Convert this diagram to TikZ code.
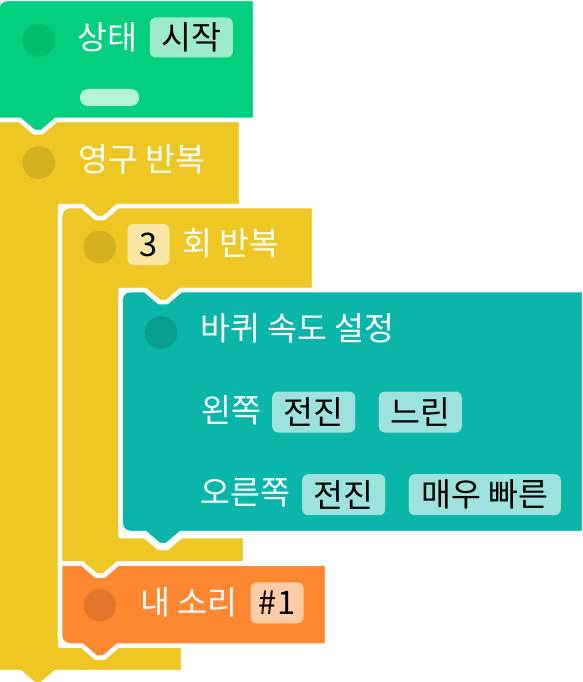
\documentclass[tikz,border=0pt]{standalone}
\usepackage{fontspec}
\setmainfont{Noto Sans CJK KR}
\definecolor{gFill}{HTML}{02D07F}
\definecolor{gDot}{HTML}{00BC6F}
\definecolor{gPill}{HTML}{9DEBCB}
\definecolor{gBar}{HTML}{B2F4D3}
\definecolor{yFill}{HTML}{EEC725}
\definecolor{yDot}{HTML}{D5B11F}
\definecolor{yPill}{HTML}{FAE7A5}
\definecolor{tFill}{HTML}{0AB6AA}
\definecolor{tDot}{HTML}{089E91}
\definecolor{tPill}{HTML}{9DE2DC}
\definecolor{oFill}{HTML}{FE8731}
\definecolor{oDot}{HTML}{E2772C}
\definecolor{oPill}{HTML}{FFCCA8}
\begin{document}
\begin{tikzpicture}[x=1pt,y=-1pt,
  blk/.style={draw=white, line width=4.5pt, line join=round},
  lbl/.style={text=white, font=\fontsize{32.5}{34}\selectfont, inner sep=0pt, anchor=west},
  pill/.style={rounded corners=6pt, inner sep=0pt, text=black, font=\fontsize{32.5}{34}\selectfont, minimum height=41pt},
  dot/.style={circle, inner sep=0pt, minimum size=32.6pt}]
\useasboundingbox (0,0) rectangle (582,682);
% outer forever loop
\path[blk, fill=yFill] (-3,120) -- (20,120) -- (34,132) -- (42,132) -- (56,120) -- (241,120) -- (241,206)
  -- (118,206) -- (104,218) -- (96,218) -- (82,206) -- (60,206) -- (60,645.5)
  -- (82,645.5) -- (96,657.5) -- (104,657.5) -- (118,645.5) -- (183,645.5) -- (183,672)
  -- (56,672) -- (42,684) -- (34,684) -- (20,672) -- (-3,672) -- cycle;
% inner repeat loop
\path[blk, fill=yFill] (60,563.5) -- (60,216) arc[start angle=180,end angle=90,radius=10pt]
  -- (82,206) -- (96,218) -- (104,218) -- (118,206) -- (314,206) -- (314,290)
  -- (181,290) -- (167,302) -- (159,302) -- (145,290) -- (120.5,290) -- (120.5,536)
  -- (145,536) -- (159,548) -- (167,548) -- (181,536) -- (245,536) -- (245,563.5)
  -- (118,563.5) -- (104,575.5) -- (96,575.5) -- (82,563.5) -- cycle;
% teal block
\path[blk, fill=tFill] (120.5,523) -- (120.5,300) arc[start angle=180,end angle=90,radius=10pt]
  -- (145,290) -- (159,302) -- (167,302) -- (181,290) -- (584,290) -- (584,533)
  -- (181,533) -- (167,545) -- (159,545) -- (145,533) -- (130.5,533)
  arc[start angle=270,end angle=180,radius=10pt] -- cycle;
% orange block
\path[blk, fill=oFill] (60,563.5) -- (82,563.5) -- (96,575.5) -- (104,575.5) -- (118,563.5)
  -- (327,563.5) -- (327,645.5) -- (118,645.5) -- (104,657.5) -- (96,657.5) -- (82,645.5)
  -- (70,645.5) arc[start angle=270,end angle=180,radius=10pt] -- cycle;
% green hat block
\path[blk, fill=gFill] (-3,120) -- (-3,9) arc[start angle=180,end angle=90,radius=10pt]
  -- (255,-1) -- (255,120) -- (56,120) -- (42,132) -- (34,132) -- (20,120) -- cycle;
% dots
\node[dot, fill=gDot] (d1) at (38.8,40.3) {};
\node[dot, fill=yDot] (d2) at (38.8,162.5) {};
\node[dot, fill=yDot] (d3) at (99.7,247) {};
\node[dot, fill=tDot] (d4) at (161,332.5) {};
\node[dot, fill=oDot] (d5) at (99.7,605.3) {};
% labels
\node[lbl] (l1) at (77,37) {상태};
\node[pill, fill=gPill, minimum width=83pt, minimum height=40pt] (p1) at (191.3,37.5) {시작};
\node[fill=gBar, rounded corners=8pt, minimum width=59pt, minimum height=17pt, inner sep=0pt] (bar) at (109.5,97.5) {};
\node[lbl] (l2) at (78,159) {영구 반복};
\node[pill, fill=yPill, minimum width=42pt] (p2) at (148.5,244.5) {3};
\node[lbl] (l3) at (182,243) {회 반복};
\node[lbl] (l4) at (200,328) {바퀴 속도 설정};
\node[lbl] (l5) at (201,410) {왼쪽};
\node[pill, fill=tPill, minimum width=83pt] (p3) at (313.7,412) {전진};
\node[pill, fill=tPill, minimum width=83pt] (p4) at (420.3,412) {느린};
\node[lbl] (l6) at (200,493) {오른쪽};
\node[pill, fill=tPill, minimum width=83pt] (p5) at (343.7,494.7) {전진};
\node[pill, fill=tPill, minimum width=152pt] (p6) at (484.8,494.7) {매우 빠른};
\node[lbl] (l7) at (140,602) {내 소리};
\node[pill, fill=oPill, minimum width=53pt] (p7) at (277,602.8) {\#1};
\end{tikzpicture}
\end{document}
